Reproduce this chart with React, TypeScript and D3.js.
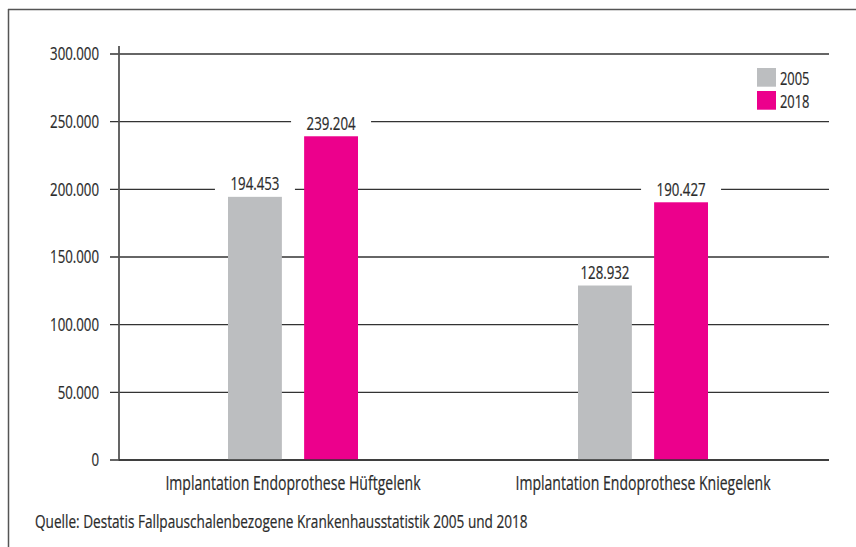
import React, { useLayoutEffect, useRef, useState } from "react";
import * as d3 from "d3";

const categories = ["Implantation Endoprothese Hüftgelenk", "Implantation Endoprothese Kniegelenk"];
const seriesNames = ["2005", "2018"];
const values2005 = [194453, 128932];
const values2018 = [239204, 190427];
const yTicks = [0, 50000, 100000, 150000, 200000, 250000, 300000];
const sourceText = "Quelle: Destatis Fallpauschalenbezogene Krankenhausstatistik 2005 und 2018";

const colors = ["#bcbec0", "#ec008c"];
const FONT = "'Open Sans', 'Noto Sans', sans-serif";
const TXT = "#2b2b2b";

const de = d3.formatLocale({ decimal: ",", thousands: ".", grouping: [3], currency: ["", " €"] });
const fmt = de.format(",d");

function T({ x, y, k, anchor = "start", size, children }: any) {
  return (
    <text transform={`translate(${x},${y}) scale(${k},1)`} textAnchor={anchor} fontSize={size} fill={TXT}
      stroke={TXT} strokeWidth={0.22}>
      {children}
    </text>
  );
}

export default function App() {
  const W = 856, H = 547;
  const axisX = 119;
  const gridRight = 829;
  const measRef = useRef<SVGTextElement>(null);
  const [k, setK] = useState(0.75);
  useLayoutEffect(() => {
    if (measRef.current) {
      const w = measRef.current.getComputedTextLength();
      if (w > 0) setK(493 / w);
    }
  }, []);

  const y = d3.scaleLinear().domain([0, 300000]).range([460, 54]);
  const x0 = d3.scaleBand<string>().domain(categories).range([118, 818]).paddingInner(0);
  const x1 = d3.scaleBand<string>().domain(seriesNames).range([0, 130]).paddingInner(38 / 130).paddingOuter(0);
  const series = [values2005, values2018];

  const bars: any[] = [];
  categories.forEach((c, ci) => {
    const gx = (x0(c) as number) + x0.bandwidth() / 2 - 65;
    seriesNames.forEach((s, si) => {
      const v = series[si][ci];
      const bx = gx + (x1(s) as number);
      bars.push({ key: c + s, x: bx, w: x1.bandwidth(), v, color: colors[si] });
    });
  });

  return (
    <svg width={W} height={H} style={{ position: "absolute", left: 0, top: 0, background: "#fff" }} fontFamily={FONT}>
      <text ref={measRef} x={-2000} y={-2000} fontSize={19} visibility="hidden">{sourceText}</text>
      {/* frame */}
      <line x1={8} x2={W} y1={9.5} y2={9.5} stroke="#555" strokeWidth={1.5} />
      <line x1={8.5} x2={8.5} y1={9} y2={H} stroke="#555" strokeWidth={1.5} />

      {/* gridlines + ticks */}
      {yTicks.map((t) => (
        <g key={t}>
          <line x1={110} x2={gridRight} y1={y(t)} y2={y(t)} stroke="#333" strokeWidth={t === 0 ? 1.6 : 1.3} />
          <T x={99} y={y(t) + 6.3} k={k} anchor="end" size={18.5}>{fmt(t)}</T>
        </g>
      ))}

      {/* label backgrounds breaking gridlines */}
      {bars.map((b) => (
        <rect key={"bg" + b.key} x={b.x + b.w / 2 - 40} y={y(b.v) - 20} width={80} height={14} fill="#fff" />
      ))}

      {/* y axis */}
      <line x1={axisX} x2={axisX} y1={46} y2={461} stroke="#555" strokeWidth={1.8} />

      {/* bars */}
      {bars.map((b) => (
        <rect key={b.key} x={b.x} y={y(b.v)} width={b.w} height={y(0) - y(b.v)} fill={b.color} />
      ))}
      <line x1={axisX} x2={gridRight} y1={y(0)} y2={y(0)} stroke="#333" strokeWidth={1.6} />

      {/* value labels */}
      {bars.map((b) => (
        <T key={"l" + b.key} x={b.x + b.w / 2} y={y(b.v) - 6.5} k={k} anchor="middle" size={18.5}>{fmt(b.v)}</T>
      ))}

      {/* category labels */}
      {categories.map((c) => (
        <T key={c} x={(x0(c) as number) + x0.bandwidth() / 2} y={489.5} k={k} anchor="middle" size={19.6}>{c}</T>
      ))}

      {/* legend */}
      {seriesNames.map((s, i) => (
        <g key={s} transform={`translate(757, ${68 + i * 23})`}>
          <rect x={0} y={0} width={19} height={18.7} fill={colors[i]} />
          <T x={23} y={16.5} k={k} size={18}>{s}</T>
        </g>
      ))}

      {/* source */}
      <T x={35} y={528} k={k} size={19}>{sourceText}</T>
    </svg>
  );
}
